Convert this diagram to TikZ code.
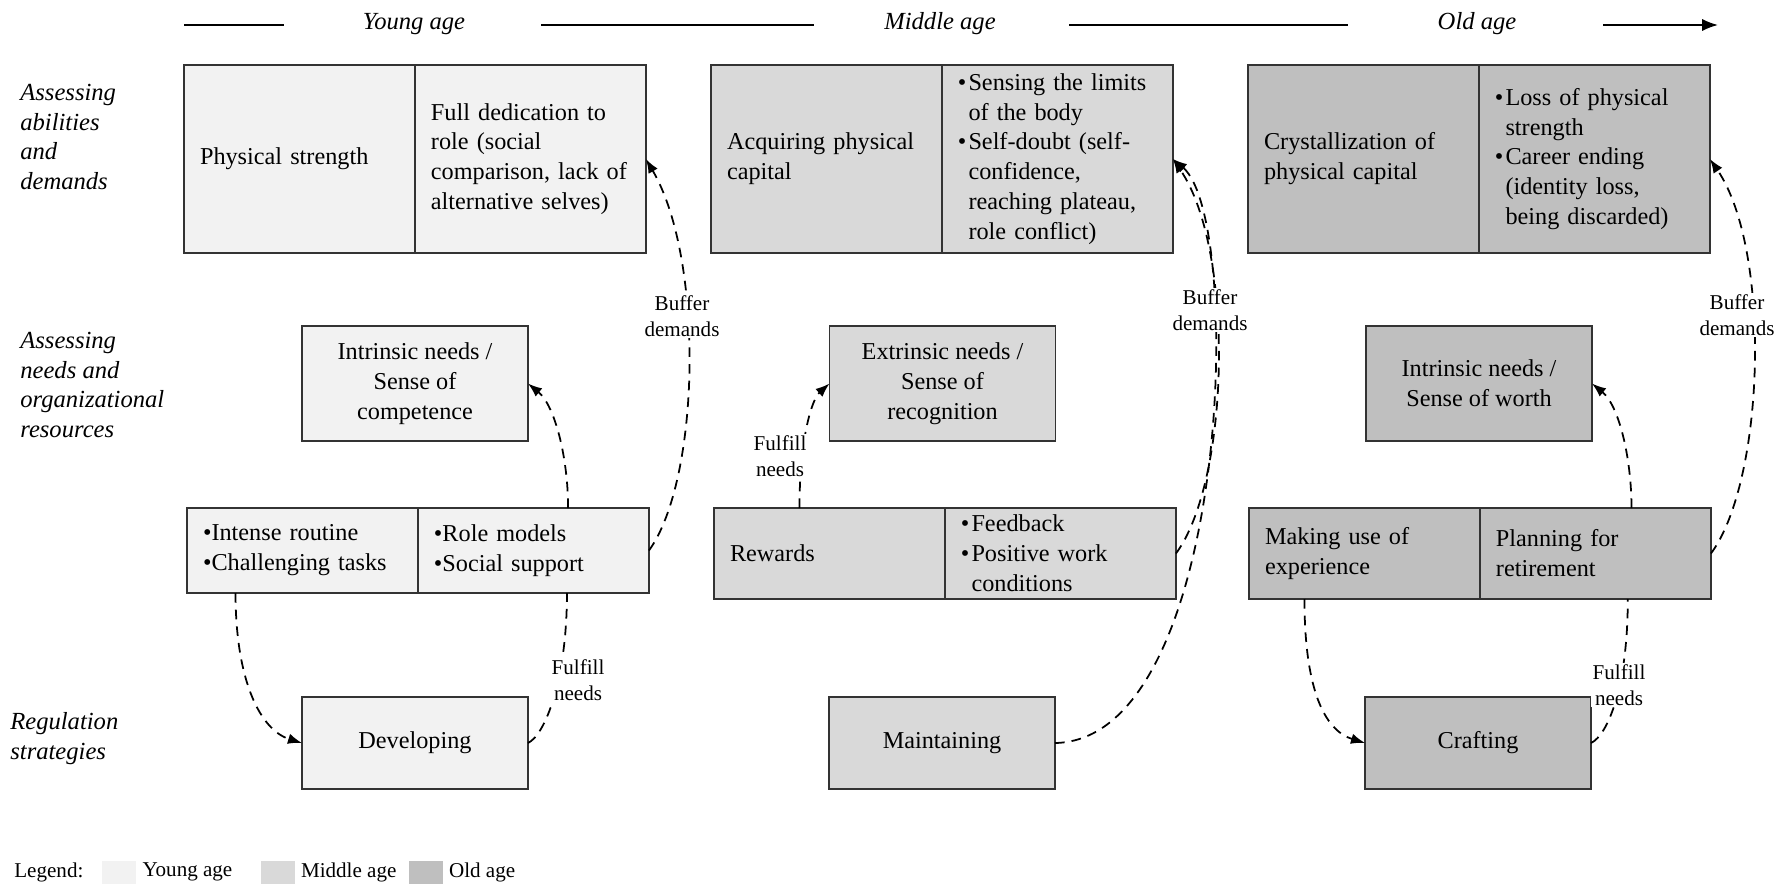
\documentclass[tikz,border=0pt]{standalone}
\usepackage{fontspec}
\setmainfont{Liberation Serif}
\usetikzlibrary{positioning,calc,arrows.meta}
\definecolor{young}{HTML}{F2F2F2}
\definecolor{middle}{HTML}{D9D9D9}
\definecolor{old}{HTML}{BFBFBF}
\newcommand{\bul}{\makebox[6pt][l]{•}}
\newcommand{\ind}{\hspace*{6pt}}

\begin{document}
\begin{tikzpicture}[x=0.02cm,y=-0.02cm,
  cell/.style={draw=black!80,line width=0.8pt,outer sep=0pt,inner xsep=0.32cm,inner ysep=2pt,
    text width=3.98cm,align=left,font=\fontsize{13.8}{17}\selectfont},
  box/.style={draw=black!80,line width=0.8pt,outer sep=0pt,inner sep=2pt,minimum width=4.52cm,
    align=center,font=\fontsize{13.8}{17}\selectfont},
  rowlbl/.style={anchor=west,align=left,inner sep=0pt,font=\fontsize{14}{17}\selectfont\itshape},
  agelbl/.style={font=\fontsize{14}{17}\selectfont\itshape},
  lbl/.style={fill=white,align=center,inner sep=1pt,font=\fontsize{12}{14.8}\selectfont},
  ageline/.style={line width=1.1pt},
  arr/.style={line width=1pt,dash pattern=on 5.5pt off 4pt,-{Latex[length=8pt,width=6pt]}},
  link/.style={line width=1pt,dash pattern=on 5.5pt off 4pt},
  swatch/.style={minimum width=0.68cm,minimum height=0.46cm,inner sep=0pt},
  legtxt/.style={font=\fontsize{12}{14}\selectfont},
]
  \useasboundingbox (0,0) rectangle (1784,886);

  % age axis
  \node[agelbl] (youngage) at (414,24) {Young age};
  \node[agelbl] (middleage) at (940,24) {Middle age};
  \node[agelbl] (oldage) at (1477,24) {Old age};
  \draw[ageline] (184,25) -- (284,25);
  \draw[ageline] (541,25) -- (814,25);
  \draw[ageline] (1069,25) -- (1348,25);
  \draw[ageline,-{Latex[length=9pt,width=7pt]}] (1603,25) -- (1718,25);

  % row labels
  \node[rowlbl] (abilities) at (20,137) {Assessing\\abilities\\and\\demands};
  \node[rowlbl] (needs) at (20,385) {Assessing\\needs and\\organizational\\resources};
  \node[rowlbl] (regulation) at (10,739) {Regulation\\strategies};

  % abilities and demands
  \node[cell,fill=young,minimum height=3.76cm] (strength) at (299.5,159) {Physical strength};
  \node[cell,fill=young,minimum height=3.76cm,right=0pt of strength] (dedication)
    {Full dedication to\\role (social\\comparison, lack of\\alternative selves)};
  \node[cell,fill=middle,minimum height=3.76cm] (acquire) at (826.5,159) {Acquiring physical\\capital};
  \node[cell,fill=middle,minimum height=3.76cm,right=0pt of acquire] (limits)
    {\bul Sensing the limits\\\ind of the body\\\bul Self-doubt (self-\\\ind confidence,\\\ind reaching plateau,\\\ind role conflict)};
  \node[cell,fill=old,minimum height=3.76cm] (crystal) at (1363.5,159) {Crystallization of\\physical capital};
  \node[cell,fill=old,minimum height=3.76cm,right=0pt of crystal] (loss)
    {\bul Loss of physical\\\ind strength\\\bul Career ending\\\ind (identity loss,\\\ind being discarded)};

  % needs
  \node[box,fill=young,minimum height=2.3cm] (competence) at (415,383.5) {Intrinsic needs /\\Sense of\\competence};
  \node[box,fill=middle,minimum height=2.3cm] (recognition) at (942.5,383.5) {Extrinsic needs /\\Sense of\\recognition};
  \node[box,fill=old,minimum height=2.3cm] (worth) at (1479,383.5) {Intrinsic needs /\\Sense of worth};

  % resources
  \node[cell,fill=young,minimum height=1.7cm] (routine) at (302.5,550.5) {•Intense routine\\•Challenging tasks};
  \node[cell,fill=young,minimum height=1.7cm,right=0pt of routine] (models) {•Role models\\•Social support};
  \node[cell,fill=middle,minimum height=1.82cm] (rewards) at (829.5,553.5) {Rewards};
  \node[cell,fill=middle,minimum height=1.82cm,right=0pt of rewards] (feedback)
    {\bul Feedback\\\bul Positive work\\\ind conditions};
  \node[cell,fill=old,minimum height=1.82cm] (experience) at (1364.5,553.5) {Making use of\\experience};
  \node[cell,fill=old,minimum height=1.82cm,right=0pt of experience] (retire) {Planning for\\retirement};

  % strategies
  \node[box,fill=young,minimum height=1.84cm] (developing) at (415,743) {Developing};
  \node[box,fill=middle,minimum height=1.84cm] (maintaining) at (942,743) {Maintaining};
  \node[box,fill=old,minimum height=1.84cm] (crafting) at (1478,743) {Crafting};

  % young age loop
  \draw[arr] (models.east) .. controls +(51,-70) and +(59,101) .. (dedication.east);
  \draw[arr] ($(models.north west)!0.65!(models.north east)$) .. controls +(0,-50) and +(27,22) .. (competence.east);
  \draw[arr] ($(routine.south west)!0.21!(routine.south east)$) .. controls +(0,87) and +(-42,-13) .. (developing.west);
  \draw[link] (developing.east) .. controls +(17,-8) and +(0,87) .. ($(models.south west)!0.645!(models.south east)$);

  % middle age loop
  \draw[arr] ($(rewards.north west)!0.37!(rewards.north east)$) .. controls +(0,-68) and +(-18,16) .. (recognition.west);
  \draw[arr] (feedback.east) .. controls +(54,-73) and +(62,91) .. (limits.east);
  \draw[arr] (maintaining.east) .. controls +(175,-3) and +(72,61) .. (limits.east);

  % old age loop
  \draw[arr] ($(retire.north west)!0.656!(retire.north east)$) .. controls +(0,-50) and +(27,22) .. (worth.east);
  \draw[arr] (retire.east) .. controls +(54,-73) and +(62,91) .. (loss.east);
  \draw[arr] ($(experience.south west)!0.24!(experience.south east)$) .. controls +(0,87) and +(-42,-13) .. (crafting.west);
  \draw[link] (crafting.east) .. controls +(17,-8) and +(0,87) .. ($(retire.south west)!0.64!(retire.south east)$);

  % connector labels
  \node[lbl] (bufferyoung) at (682,316) {Buffer\\demands};
  \node[lbl] (buffermiddle) at (1210,310) {Buffer\\demands};
  \node[lbl] (bufferold) at (1737,315) {Buffer\\demands};
  \node[lbl] (fulfillyoung) at (578,680) {Fulfill\\needs};
  \node[lbl] (fulfillmiddle) at (780,456) {Fulfill\\needs};
  \node[lbl] (fulfillold) at (1619,685) {Fulfill\\needs};

  % legend
  \node[legtxt,anchor=west,inner sep=0pt] (legend) at (14,872) {Legend:};
  \node[swatch,fill=young] (swyoung) at (119,872) {};
  \node[legtxt,right=0pt of swyoung] (legyoung) {Young age};
  \node[swatch,fill=middle] (swmiddle) at (277.5,872) {};
  \node[legtxt,right=0pt of swmiddle] (legmiddle) {Middle age};
  \node[swatch,fill=old] (swold) at (425.5,872) {};
  \node[legtxt,right=0pt of swold] (legold) {Old age};
\end{tikzpicture}
\end{document}
